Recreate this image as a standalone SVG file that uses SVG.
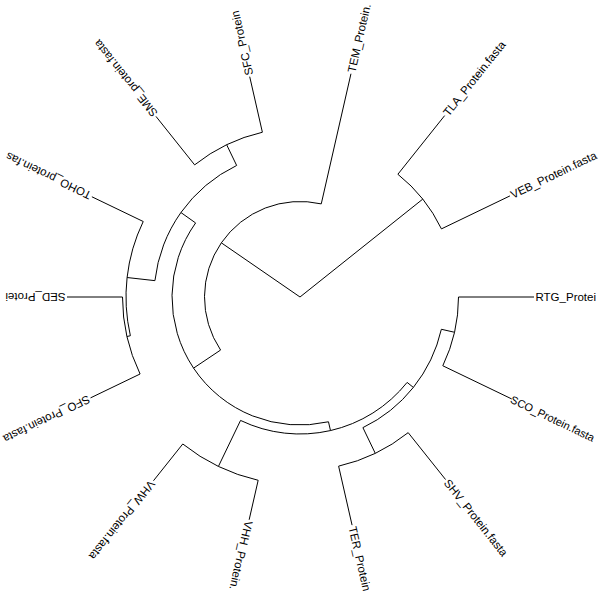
<svg xmlns="http://www.w3.org/2000/svg" width="600" height="600" viewBox="0 0 600 600">
<style>
.br{fill:none;stroke:#000;stroke-width:1}
.lb{font-family:"Liberation Sans",Arial,Helvetica,sans-serif;font-size:11.5px;fill:#000}
</style>
<rect x="0" y="0" width="600" height="600" fill="#fff"/>
<g id="edges" class="br">
<path d="M300,297 L422.75,199.11"/>
<path d="M441.45,228.88 A157,157 0 0 0 397.89,174.25"/>
<path d="M397.89,174.25 L444.65,115.62"/>
<path d="M441.45,228.88 L509.93,195.91"/>
<path d="M300,297 L221.35,242.83"/>
<path d="M321.25,203.89 A95.5,95.5 0 0 0 220.59,350.06"/>
<path d="M321.25,203.89 L350.96,73.74"/>
<path d="M220.59,350.06 L193.57,368.11"/>
<path d="M195.60,222.94 A128,128 0 0 0 328.48,421.79"/>
<path d="M195.60,222.94 L180.92,212.53"/>
<path d="M236.65,165.46 A146,146 0 0 0 154.92,280.65"/>
<path d="M236.65,165.46 L226.67,144.74"/>
<path d="M262.39,132.24 A169,169 0 0 0 194.63,164.87"/>
<path d="M262.39,132.24 L249.71,76.67"/>
<path d="M194.63,164.87 L155.97,116.40"/>
<path d="M154.92,280.65 L127.09,277.52"/>
<path d="M143.23,221.50 A174,174 0 0 0 130.36,335.72"/>
<path d="M143.23,221.50 L91.88,196.77"/>
<path d="M130.36,335.72 L126.95,336.50"/>
<path d="M122.5,297 A177.5,177.5 0 0 0 140.08,374.01"/>
<path d="M122.5,297 L67,297"/>
<path d="M140.08,374.01 L90.52,397.88"/>
<path d="M328.48,421.79 L330.49,430.57"/>
<path d="M240.56,420.43 A137,137 0 0 0 407.11,382.42"/>
<path d="M240.56,420.43 L218.43,466.38"/>
<path d="M182.78,443.98 A188,188 0 0 0 258.17,480.29"/>
<path d="M182.78,443.98 L153.48,480.73"/>
<path d="M258.17,480.29 L249.15,519.77"/>
<path d="M407.11,382.42 L413.37,387.41"/>
<path d="M362.91,427.64 A145,145 0 0 0 441.36,329.27"/>
<path d="M362.91,427.64 L375.28,453.32"/>
<path d="M338.61,466.15 A173.5,173.5 0 0 0 408.18,432.65"/>
<path d="M338.61,466.15 L352.07,525.13"/>
<path d="M408.18,432.65 L445.58,479.56"/>
<path d="M441.36,329.27 L454.53,332.27"/>
<path d="M442.80,365.77 A158.5,158.5 0 0 0 458.5,297"/>
<path d="M442.80,365.77 L511.73,398.96"/>
<path d="M458.5,297 L534,297"/>
</g>
<g id="tip-RTG"><text class="lb" transform="translate(535.5,297)" dy="0.35em">RTG_Protei</text></g>
<g id="tip-SCO"><text class="lb" style="font-size:11px" transform="translate(511.28,398.74) rotate(25.714)" dy="0.35em">SCO_Protein.fasta</text></g>
<g id="tip-SHV"><text class="lb" transform="translate(446.52,480.73) rotate(51.429)" dy="0.35em">SHV_Protein.fasta</text></g>
<g id="tip-TER"><text class="lb" transform="translate(352.40,526.60) rotate(77.143)" dy="0.35em">TER_Protein</text></g>
<g id="tip-VHH"><text class="lb" transform="translate(248.82,521.23) rotate(102.857)" dy="0.35em">VHH_Protein.</text></g>
<g id="tip-VHW"><text class="lb" transform="translate(152.54,481.90) rotate(128.571)" dy="0.35em">VHW_Protein.fasta</text></g>
<g id="tip-SFO"><text class="lb" transform="translate(89.17,398.53) rotate(154.286)" dy="0.35em">SFO_Protein.fasta</text></g>
<g id="tip-SED"><text class="lb" transform="translate(65.5,297) rotate(180)" dy="0.35em">SED_Protei</text></g>
<g id="tip-TOHO"><text class="lb" transform="translate(90.52,196.12) rotate(-154.286)" dy="0.35em">TOHO_protein.fas</text></g>
<g id="tip-SME"><text class="lb" transform="translate(155.04,115.22) rotate(-128.571)" dy="0.35em">SME_protein.fasta</text></g>
<g id="tip-SFC"><text class="lb" transform="translate(249.38,75.20) rotate(-102.857)" dy="0.35em">SFC_Protein</text></g>
<g id="tip-TEM"><text class="lb" transform="translate(351.29,72.28) rotate(-77.143)" dy="0.35em">TEM_Protein.</text></g>
<g id="tip-TLA"><text class="lb" transform="translate(445.58,114.44) rotate(-51.429)" dy="0.35em">TLA_Protein.fasta</text></g>
<g id="tip-VEB"><text class="lb" transform="translate(511.28,195.25) rotate(-25.714)" dy="0.35em">VEB_Protein.fasta</text></g>
</svg>
